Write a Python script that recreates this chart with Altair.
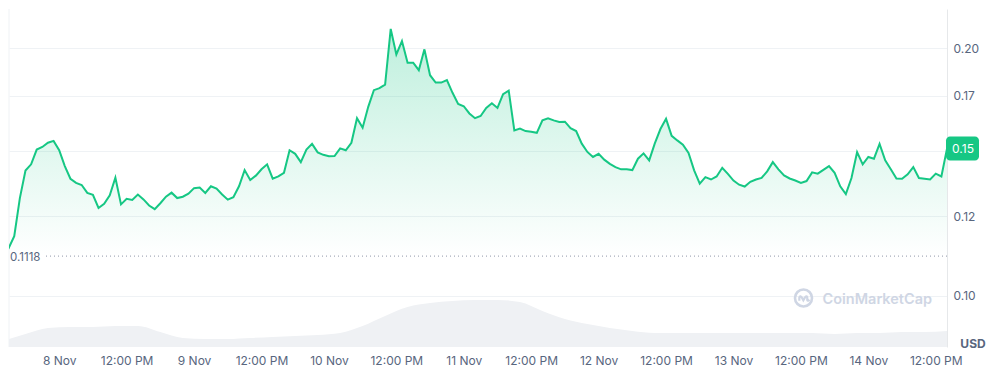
import altair as alt
import pandas as pd

# ---------------- data ----------------
start_time = "2024-11-07T14:00:00Z"

# hourly price (USD), 7 Nov 14:00 -> 14 Nov 14:00 (UTC)
price = [
    0.1118, 0.1143, 0.1182, 0.1315, 0.1420, 0.1445, 0.1506, 0.1517, 0.1535, 0.1543,
    0.1503, 0.1438, 0.1388, 0.1372, 0.1364, 0.1334, 0.1327, 0.1279, 0.1294, 0.1325,
    0.1392, 0.1292, 0.1312, 0.1308, 0.1328, 0.1310, 0.1288, 0.1275, 0.1296, 0.1320,
    0.1335, 0.1315, 0.1320, 0.1331, 0.1352, 0.1354, 0.1334, 0.1359, 0.1350, 0.1328,
    0.1309, 0.1318, 0.1359, 0.1422, 0.1383, 0.1400, 0.1425, 0.1445, 0.1388, 0.1397,
    0.1411, 0.1503, 0.1488, 0.1454, 0.1506, 0.1530, 0.1494, 0.1484, 0.1478, 0.1479,
    0.1511, 0.1503, 0.1535, 0.1644, 0.1601, 0.1697, 0.1778, 0.1788, 0.1806, 0.2110,
    0.1965, 0.2040, 0.1920, 0.1920, 0.1880, 0.1993, 0.1854, 0.1816, 0.1816, 0.1829,
    0.1765, 0.1711, 0.1700, 0.1666, 0.1644, 0.1654, 0.1692, 0.1714, 0.1692, 0.1758,
    0.1776, 0.1589, 0.1597, 0.1586, 0.1583, 0.1578, 0.1634, 0.1644, 0.1634, 0.1627,
    0.1628, 0.1599, 0.1586, 0.1531, 0.1496, 0.1475, 0.1488, 0.1464, 0.1447, 0.1434,
    0.1425, 0.1425, 0.1422, 0.1468, 0.1490, 0.1461, 0.1532, 0.1595, 0.1641, 0.1565,
    0.1545, 0.1527, 0.1492, 0.1421, 0.1369, 0.1394, 0.1385, 0.1397, 0.1431, 0.1407,
    0.1381, 0.1365, 0.1358, 0.1376, 0.1385, 0.1391, 0.1417, 0.1454, 0.1425, 0.1401,
    0.1389, 0.1381, 0.1372, 0.1379, 0.1413, 0.1408, 0.1423, 0.1438, 0.1411, 0.1359,
    0.1330, 0.1391, 0.1495, 0.1445, 0.1475, 0.1468, 0.1530, 0.1461, 0.1425, 0.1389,
    0.1388, 0.1405, 0.1434, 0.1391, 0.1388, 0.1385, 0.1408, 0.1397, 0.1510,
]

# 24h volume (arbitrary units, every 4 hours)
volume = [
    6, 13, 19, 20, 20, 21, 21, 15, 9, 8,
    8, 9, 10, 11, 12, 14, 21, 31, 40, 44,
    46, 47, 47, 45, 36, 28, 23, 19, 16, 14,
    14, 14, 14, 14, 14, 14, 14, 13, 14, 14,
    15, 15, 16,
]

x_tick_times = [
    "2024-11-08T00:00:00Z", "2024-11-08T12:00:00Z",
    "2024-11-09T00:00:00Z", "2024-11-09T12:00:00Z",
    "2024-11-10T00:00:00Z", "2024-11-10T12:00:00Z",
    "2024-11-11T00:00:00Z", "2024-11-11T12:00:00Z",
    "2024-11-12T00:00:00Z", "2024-11-12T12:00:00Z",
    "2024-11-13T00:00:00Z", "2024-11-13T12:00:00Z",
    "2024-11-14T00:00:00Z", "2024-11-14T12:00:00Z",
]
x_tick_labels = [
    "8 Nov", "12:00 PM", "9 Nov", "12:00 PM", "10 Nov", "12:00 PM",
    "11 Nov", "12:00 PM", "12 Nov", "12:00 PM", "13 Nov", "12:00 PM",
    "14 Nov", "12:00 PM",
]
y_tick_values = [0.10, 0.125, 0.15, 0.175, 0.20]
# the 0.15 tick label is covered by the current-price badge in the reference
y_tick_labels = ["0.10", "0.12", "", "0.17", "0.20"]

# ---------------- tables ----------------
p_times = pd.date_range(start_time, periods=len(price), freq="h")
df = pd.DataFrame({"time": p_times.strftime("%Y-%m-%dT%H:%M:%SZ"), "price": price})
v_times = pd.date_range(start_time, periods=len(volume), freq="4h")
vdf = pd.DataFrame({"time": v_times.strftime("%Y-%m-%dT%H:%M:%SZ"), "vol": volume})
first = df.head(1)
last = df.tail(1)

W, H = 938, 338
FONT = "Inter"
GREEN = "#16c784"
TXT = "#58667e"

# ---------------- scales / axes ----------------
x_scale = alt.Scale(
    type="utc",
    domain=[
        alt.DateTime(year=2024, month=11, date=7, hours=15, minutes=4, utc=True),
        alt.DateTime(year=2024, month=11, date=14, hours=14, utc=True),
    ],
)
x_expr = "''"
for t, lab in reversed(list(zip(x_tick_times, x_tick_labels))):
    ms = int(pd.Timestamp(t).value // 10**6)
    x_expr = f"time(datum.value) == {ms} ? '{lab}' : ({x_expr})"
x_axis = alt.Axis(
    values=[
        alt.DateTime(year=int(t[0:4]), month=int(t[5:7]), date=int(t[8:10]),
                     hours=int(t[11:13]), utc=True)
        for t in x_tick_times
    ],
    labelExpr=x_expr, grid=False, ticks=False, domain=False, title=None,
    labelColor=TXT, labelFont=FONT, labelFontSize=12, labelPadding=8,
)
x_enc = alt.X("time:T", scale=x_scale, axis=x_axis)

y_scale = alt.Scale(type="log", domain=[0.08671, 0.2231], nice=False, zero=False)
y_expr = "''"
for v, lab in reversed(list(zip(y_tick_values, y_tick_labels))):
    y_expr = f"abs(datum.value - {v}) < 1e-6 ? '{lab}' : ({y_expr})"
y_axis = alt.Axis(
    orient="right", values=y_tick_values, labelExpr=y_expr, title=None,
    grid=True, gridColor="#eff2f5", gridWidth=1, ticks=False,
    domain=True, domainColor="#e6e8ea", domainWidth=1,
    labelColor=TXT, labelFont=FONT, labelFontSize=12, labelPadding=6,
)
y_enc = alt.Y("price:Q", scale=y_scale, axis=y_axis)

# ---------------- layers ----------------
vol_layer = alt.Chart(vdf).mark_area(
    color="#eff1f4", interpolate="monotone", clip=True
).encode(
    x=x_enc,
    y=alt.Y("vol:Q", scale=alt.Scale(domain=[0, H]), axis=None),
)

area = alt.Chart(df).mark_area(
    clip=True,
    color=alt.Gradient(
        gradient="linear",
        stops=[
            alt.GradientStop(color="rgba(22,199,132,0.28)", offset=0),
            alt.GradientStop(color="rgba(22,199,132,0.0)", offset=1),
        ],
        x1=0, x2=0, y1=0, y2=1,
    ),
).encode(x=x_enc, y=y_enc, y2=alt.Y2("base:Q")).transform_calculate(
    base=str(price[0])
)

line = alt.Chart(df).mark_line(color=GREEN, strokeWidth=2, clip=True).encode(
    x=x_enc, y=y_enc
)

start_rule = alt.Chart(first).mark_rule(
    strokeDash=[1, 3], color="#8f98a8", strokeWidth=1
).encode(y=y_enc, x=alt.value(37), x2=alt.value(W))

start_text = alt.Chart(first).mark_text(
    align="left", baseline="middle", color=TXT, font=FONT, fontSize=11.5, dy=2
).encode(y=y_enc, x=alt.value(1), text=alt.Text("price:Q", format=".4f"))

badge = alt.Chart(last).mark_rect(
    color=GREEN, cornerRadius=4, xOffset=-1, x2Offset=32, yOffset=-12, y2Offset=12
).encode(x=x_enc, x2=alt.X2("time:T"), y=y_enc, y2=alt.Y2("price:Q"))

badge_text = alt.Chart(last).mark_text(
    color="white", font=FONT, fontSize=12, dx=16, align="center", baseline="middle"
).encode(x=x_enc, y=y_enc, text=alt.Text("price:Q", format=".2f"))

price_layers = alt.layer(area, line, start_rule, start_text, badge, badge_text)

# decorations
deco = pd.DataFrame({"a": [0]})
left_line = alt.Chart(deco).mark_rule(color="#eff2f5").encode(
    x=alt.value(0), y=alt.value(0), y2=alt.value(H)
)
usd = alt.Chart(deco).mark_text(
    text="USD", font=FONT, fontSize=12, fontWeight="bold", color=TXT,
    align="center", baseline="middle",
).encode(x=alt.value(W + 26), y=alt.value(H - 3))
logo_ring = alt.Chart(deco).mark_point(
    shape="circle", size=290, filled=False, color="#cfd6e4", strokeWidth=2.6, opacity=1
).encode(x=alt.value(794.5), y=alt.value(289))
logo_m = alt.Chart(deco).mark_point(
    shape="M -0.55 0.35 L -0.55 -0.05 Q -0.45 -0.45 -0.15 0.05 L -0.02 0.3 L 0.12 0.05 Q 0.42 -0.45 0.5 -0.05 L 0.5 0.3 Q 0.55 0.45 0.8 0.25",
    size=230, filled=False, color="#cfd6e4", strokeWidth=2.2, opacity=1,
).encode(x=alt.value(794.5), y=alt.value(289))
wm_text = alt.Chart(deco).mark_text(
    text="CoinMarketCap", font=FONT, fontSize=14.5, fontWeight=600, color="#cfd6e4",
    align="left", baseline="alphabetic",
).encode(x=alt.value(813.5), y=alt.value(295))

chart = alt.layer(
    vol_layer, left_line, logo_ring, logo_m, wm_text, price_layers, usd
).resolve_scale(y="independent").properties(
    width=W, height=H, padding=0, background="white"
).configure_view(stroke=None)

chart.save("out.html", embed_options={"renderer": "svg", "actions": False})
